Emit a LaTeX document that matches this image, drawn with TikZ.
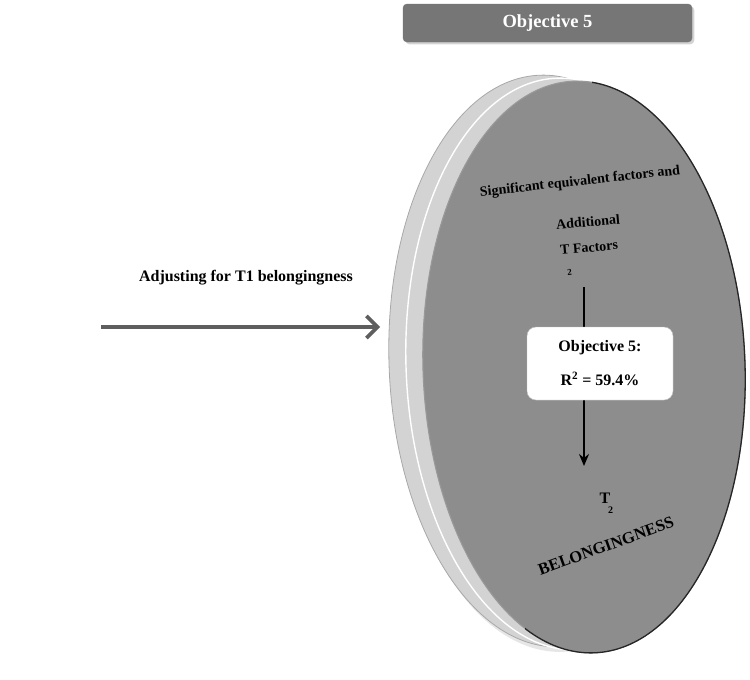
\documentclass[tikz,border=0pt]{standalone}
\usepackage{fontspec}
\setmainfont{Liberation Serif}
\usetikzlibrary{arrows.meta,positioning,calc,shapes.geometric,shadows}
\definecolor{face}{HTML}{8D8D8D}
\definecolor{rim}{HTML}{D3D3D3}
\definecolor{rimedge}{HTML}{A8A8A8}
\definecolor{bannerfill}{HTML}{767676}
\definecolor{shaft}{HTML}{5E5E5E}
\tikzset{
  banner/.style={draw=black!55,fill=bannerfill,rounded corners=4pt,
    minimum width=289pt,minimum height=38pt,text=white,
    font=\bfseries\fontsize{18.5}{20}\selectfont,drop shadow={opacity=0.35}},
  disc/.style={ellipse,minimum width=322pt,minimum height=572pt,rotate=2,inner sep=0pt},
  caption/.style={font=\bfseries\fontsize{16}{18}\selectfont,inner sep=1pt},
  facetext/.style={font=\bfseries\fontsize{14}{16}\selectfont,inner sep=1pt},
  result/.style={draw=black!25,fill=white,rounded corners=9pt,align=center,
    minimum width=146pt,minimum height=73pt,font=\bfseries\fontsize{16}{34}\selectfont},
  arrow/.style={-{Stealth[length=12pt,width=10pt]},line width=1.8pt},
  feed/.style={-{Straight Barb[length=11pt,width=22pt]},draw=shaft,line width=3.6pt}
}
\begin{document}
\begin{tikzpicture}[x=1pt,y=-1pt]
  \useasboundingbox (0,0) rectangle (750,680);
  % objective banner
  \node[banner] (obj) at (547.5,23) {Objective 5};
  % the disc: rim layers, then the face
  \node[disc,fill=rim,draw=rimedge,line width=0.8pt,
    drop shadow={shadow xshift=3pt,shadow yshift=-5pt,opacity=0.2}] (rimback) at (550,361) {};
  \node[disc,fill=rim,draw=white,line width=1.4pt] (rimmid) at (567,364) {};
  \node[disc,fill=face,draw=black!40,line width=1.1pt] (face) at (584,367) {};
  \begin{scope}
    \clip (592,0) rectangle (750,680) (525,610) rectangle (750,680);
    \node[disc,draw=black!85,line width=1.3pt] (faceedge) at (584,367) {};
  \end{scope}
  % incoming adjustment
  \node[caption] (adj) at (246,278) {Adjusting for T1 belongingness};
  \coordinate (feedin) at (101,327);
  \coordinate (feedout) at (380,327);
  \draw[feed] (feedin) -- (feedout);
  % texts on the face
  \node[facetext,rotate=6.3] (sig) at (580,182) {Significant equivalent factors and};
  \node[facetext,rotate=5] (add) at (588,222) {Additional};
  \node[facetext,rotate=5] (tf) at (590,258)
    {T\rlap{\raisebox{-3.3ex}{\kern-0.3em\fontsize{9}{9}\selectfont 2}}\ Factors};
  \node[facetext,font=\bfseries\fontsize{16}{16}\selectfont,align=center] (t2) at (605,503)
    {T\\[-6pt]\hspace*{11pt}\fontsize{10}{10}\selectfont 2};
  \node[facetext,font=\bfseries\fontsize{16.5}{20}\selectfont,rotate=20] (bel) at (606,546) {BELONGINGNESS};
  \coordinate (src) at (584,287);
  \coordinate (snk) at (584,466);
  \draw[arrow] (src) -- (snk);
  \node[result] (r2) at (600,363.5) {Objective 5:\\R\textsuperscript{2} = 59.4\%};
\end{tikzpicture}
\end{document}
